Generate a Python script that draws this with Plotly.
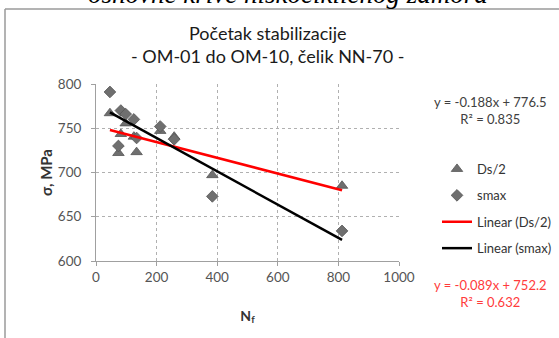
import plotly.graph_objects as go

# ---- data ----
nf = [46, 74, 82, 98, 125, 134, 212, 258, 384, 812]
ds2 = [767, 722, 743.5, 755.5, 740.5, 723, 747, 740.5, 697, 685]
smax = [791, 730, 770, 766, 760, 739, 752, 737.5, 673, 634]

# linear trend lines (coefficients as printed on the chart)
fit_slope = {"Ds/2": -0.089, "smax": -0.188}
fit_intercept = {"Ds/2": 752.2, "smax": 776.5}
fit_r2 = {"Ds/2": 0.632, "smax": 0.835}

x_ticks = [0, 200, 400, 600, 800, 1000]
y_ticks = [600, 650, 700, 750, 800]

FONT = "Lato"
GRAY_MK = "#6f6f6f"

fig = go.Figure()

fig.add_trace(go.Scatter(
    x=nf, y=ds2, mode="markers", name="Ds/2", legendgroup="a",
    marker=dict(symbol="triangle-up", size=10, color=GRAY_MK,
                line=dict(color="#555555", width=0.8)),
))
fig.add_trace(go.Scatter(
    x=nf, y=smax, mode="markers", name="smax", legendgroup="b",
    marker=dict(symbol="diamond", size=9, color=GRAY_MK,
                line=dict(color="#555555", width=0.8)),
))

xr = [min(nf), max(nf)]
for key, color, grp in [("Ds/2", "#ff0000", "c"), ("smax", "#000000", "d")]:
    fig.add_trace(go.Scatter(
        x=xr, y=[fit_slope[key] * v + fit_intercept[key] for v in xr],
        mode="lines", name=f"Linear ({key})", legendgroup=grp,
        line=dict(color=color, width=2.5),
    ))

def eq_text(key):
    return f"y = {fit_slope[key]:.3f}x + {fit_intercept[key]:.1f}<br>R² = {fit_r2[key]:.3f}"

annotations = [
    dict(text="Početak stabilizacije<br>- OM-01 do OM-10, čelik NN-70 -",
         xref="paper", yref="paper", x=0.566, y=(261 - 44) / 177,
         xanchor="center", yanchor="middle", showarrow=False,
         font=dict(family=FONT, size=18, color="#1a1a1a")),
    dict(text="<i>osnovne krive niskocikličnog zamora</i>",
         xref="paper", yref="paper", x=(288 - 96) / 303, y=(261 + 5.5) / 177,
         xanchor="center", yanchor="middle", showarrow=False,
         font=dict(family="Liberation Serif", size=27, color="#000000")),
    dict(text=eq_text("smax"), xref="paper", yref="paper",
         x=(490 - 96) / 303, y=(261 - 110) / 177, xanchor="center", yanchor="middle",
         showarrow=False, font=dict(family=FONT, size=13, color="#404040")),
    dict(text=eq_text("Ds/2"), xref="paper", yref="paper",
         x=(491 - 96) / 303, y=(261 - 293) / 177, xanchor="center", yanchor="middle",
         showarrow=False, font=dict(family=FONT, size=13, color="#ff3b3b")),
]

shapes = [
    dict(type="line", xref="paper", yref="paper",
         x0=(5 - 96) / 303, x1=(560 - 96) / 303,
         y0=(261 - 9) / 177, y1=(261 - 9) / 177,
         line=dict(color="#9a9a9a", width=1.5)),
    dict(type="line", xref="paper", yref="paper",
         x0=(5 - 96) / 303, x1=(5 - 96) / 303,
         y0=(261 - 9) / 177, y1=(261 - 340) / 177,
         line=dict(color="#9a9a9a", width=1.5)),
]

fig.update_layout(
    width=559, height=338,
    margin=dict(l=96, r=160, t=84, b=77, autoexpand=False),
    paper_bgcolor="white", plot_bgcolor="white",
    font=dict(family=FONT, size=13, color="#555555"),
    showlegend=True,
    legend=dict(xref="container", yref="container",
                x=437 / 559, y=1 - 154 / 338, xanchor="left", yanchor="top",
                font=dict(family=FONT, size=13, color="#333333"),
                bgcolor="rgba(0,0,0,0)", tracegroupgap=6.5, traceorder="grouped"),
    annotations=annotations,
    shapes=shapes,
    xaxis=dict(
        range=[0, 1000], tickvals=x_ticks, ticktext=[str(v) for v in x_ticks],
        showgrid=True, gridcolor="#b0b0b0", griddash="dot", gridwidth=1,
        showline=True, linecolor="#a0a0a0", linewidth=1,
        ticks="outside", ticklen=4, tickcolor="#a0a0a0",
        zeroline=False,
        title=dict(text="<b>N<sub>f</sub></b>", standoff=26,
                   font=dict(family=FONT, size=14, color="#333333")),
        tickfont=dict(family=FONT, size=13.5, color="#555555"),
    ),
    yaxis=dict(
        range=[600, 800], tickvals=y_ticks, ticktext=[str(v) for v in y_ticks],
        showgrid=True, gridcolor="#b0b0b0", griddash="dot", gridwidth=1,
        showline=True, linecolor="#a0a0a0", linewidth=1,
        ticks="outside", ticklen=4, tickcolor="#a0a0a0",
        ticklabelstandoff=7,
        zeroline=False,
        title=dict(text="<b>σ, MPa</b>", standoff=1,
                   font=dict(family=FONT, size=15, color="#333333")),
        tickfont=dict(family=FONT, size=13.5, color="#555555"),
    ),
)

fig.write_html(
    "out.html",
    config={"displayModeBar": False},
    post_script="document.body.style.margin='0';document.body.style.overflow='hidden';",
)
